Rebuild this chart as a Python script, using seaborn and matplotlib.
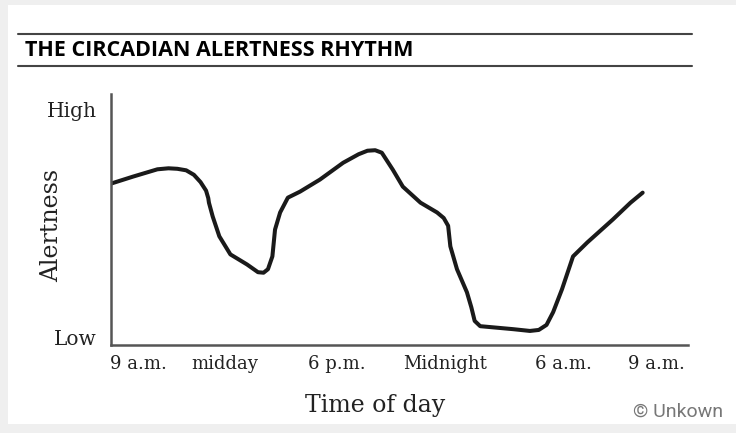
import matplotlib
matplotlib.use("Agg")
import matplotlib.pyplot as plt
from matplotlib.lines import Line2D
from matplotlib.patches import Rectangle
import seaborn as sns
import pandas as pd

# curve: hours after 9 a.m. vs alertness (0 = low, 100 = high)
hours = [0, 1.0, 2.1, 2.6, 3.0, 3.4, 3.75, 4.05, 4.3, 4.4, 4.43, 4.6, 4.9, 5.4,
         6.15, 6.65, 6.9, 7.1, 7.3, 7.42, 7.65, 8.0, 8.55, 9.45, 10.5, 11.2,
         11.6, 11.95, 12.25, 12.75, 13.2, 14.0, 14.75, 15.05, 15.25, 15.35,
         15.65, 16.1, 16.3, 16.45, 16.7, 18.2, 18.95, 19.35, 19.7, 20.0, 20.4,
         20.9, 21.55, 22.7, 23.5, 24.05]
alertness = [64.3, 67.1, 70.0, 70.4, 70.2, 69.6, 67.8, 64.9, 61.5, 58.5, 56.7,
             51.2, 43.3, 36.1, 32.1, 29.0, 28.8, 30.2, 35.3, 46.0, 52.8, 58.7,
             61.1, 65.9, 72.6, 76.0, 77.4, 77.6, 76.6, 69.8, 63.1, 56.7, 52.8,
             50.6, 47.5, 39.3, 30.2, 21.0, 15.0, 9.6, 7.5, 6.3, 5.6, 6.0, 8.0,
             13.1, 22.2, 35.3, 40.9, 50.0, 56.7, 60.7]

time_ticks = [1.22, 5.16, 10.23, 15.11, 20.45, 24.66]
time_labels = ["9 a.m.", "midday", "6 p.m.", "Midnight", "6 a.m.", "9 a.m."]
level_ticks = [2.8, 93.7]
level_labels = ["Low", "High"]

df = pd.DataFrame({"hours": hours, "alertness": alertness})

sns.set_style("white")
serif = ["DejaVu Serif"]
ink = "#222222"

W, H = 736, 433
fig = plt.figure(figsize=(W / 100, H / 100), dpi=100)
fig.patch.set_facecolor("#efefef")
fig.add_artist(Rectangle((8 / W, 1 - 424 / H), 1, (424 - 5) / H,
                         transform=fig.transFigure, facecolor="white",
                         edgecolor="none", zorder=0))

ax = fig.add_axes([111 / W, 1 - 345 / H, (688 - 111) / W, (345 - 94) / H])
ax.set_facecolor("none")
sns.lineplot(data=df, x="hours", y="alertness", ax=ax, color="#1a1a1a",
             linewidth=2.9, sort=False, estimator=None)
ax.lines[0].set_solid_joinstyle("round")
ax.lines[0].set_solid_capstyle("round")

ax.set_xlim(0, 26.1)
ax.set_ylim(0, 100)
sns.despine(ax=ax)
for side in ["left", "bottom"]:
    ax.spines[side].set_color("#555555")
    ax.spines[side].set_linewidth(1.8)

ax.set_xticks(time_ticks)
ax.set_xticklabels(time_labels, family=serif, fontsize=13, color=ink)
ax.set_yticks(level_ticks)
ax.set_yticklabels(level_labels, family=serif, fontsize=14.5, color=ink)
ax.tick_params(axis="both", length=0)
ax.tick_params(axis="x", pad=7)
ax.tick_params(axis="y", pad=10)
ax.set_xlabel("Time of day", family=serif, fontsize=17, color=ink)
ax.set_ylabel("Alertness", family=serif, fontsize=17, color=ink)
ax.xaxis.set_label_coords((375 - 111) / 577, -(394 - 345) / 251)
ax.yaxis.set_label_coords(-(111 - 63) / 577, (345 - 225) / 251)

# title block with rules
for y in [34, 66]:
    fig.add_artist(Line2D([18 / W, 692 / W], [1 - y / H, 1 - y / H],
                          transform=fig.transFigure, color="#444444", linewidth=1.5))
fig.text(25 / W, 1 - 50 / H, "THE CIRCADIAN ALERTNESS RHYTHM",
         family=["Open Sans"], fontweight="bold",
         fontsize=15.5, color="black", va="center", ha="left")

fig.text(723 / W, 1 - 412 / H, "© Unkown", family=["Roboto", "DejaVu Sans"],
         fontsize=14, color="#777777", ha="right", va="center")

fig.savefig("out.png", dpi=100, facecolor=fig.get_facecolor())
